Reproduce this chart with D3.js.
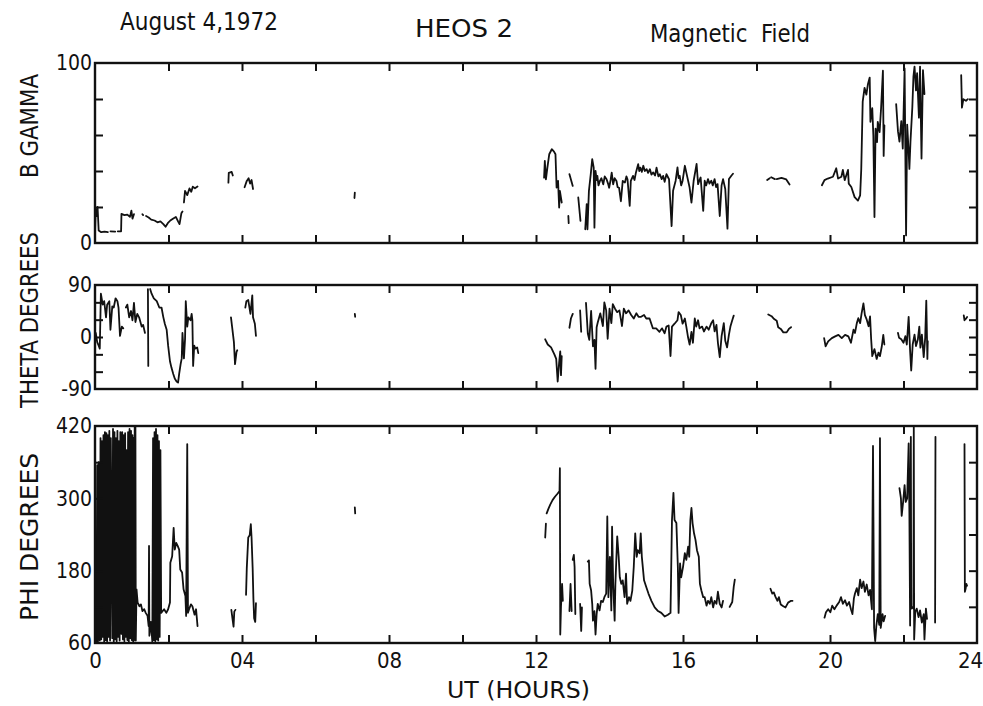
<!DOCTYPE html>
<html><head><meta charset="utf-8">
<script src="https://cdn.jsdelivr.net/npm/d3@7"></script>
<style>
html,body{margin:0;padding:0;background:#fff;}
svg{display:block;}
text{font-family:"Liberation Sans Narrow","DejaVu Sans Condensed","Liberation Sans",sans-serif;fill:#111;font-stretch:condensed;}
</style></head><body>
<svg id="chart" width="983" height="706"></svg>
<script>
// ---------- data (UT hour, value); null marks a data gap ----------
const xTickHours = [0,2,4,6,8,10,12,14,16,18,20,22,24];
const xTickLabels = ["0","","04","","08","","12","","16","","20","","24"];

const bTicks = [0,20,40,60,80,100];
const bTickLabels = ["0","","","","","100"];
const thetaTicks = [-90,-60,-30,0,30,60,90];
const thetaTickLabels = ["-90","","","0","","","90"];
const phiTicks = [60,120,180,240,300,360,420];
const phiTickLabels = ["60","","180","","300","","420"];

const bGamma = [
[0.00,6],[0.02,19],[0.05,15],[0.07,20],[0.10,7],[0.17,6],[0.26,6.3],[0.35,6],null,
[0.42,6.5],[0.55,6.3],null,
[0.62,6.5],[0.71,6.5],[0.72,16.2],[0.80,15.5],[0.88,15.8],[0.95,14.5],[0.99,18],[1.02,13.5],[1.06,16],null,
[1.29,16],[1.31,15.5],null,
[1.39,15],[1.46,14.2],[1.53,13],[1.62,12.5],[1.70,11.5],[1.78,12],[1.86,10.5],[1.92,9],[1.98,11],[2.05,12.5],[2.12,13.5],[2.20,14.5],[2.26,12],[2.30,10.5],[2.35,16.5],[2.38,17.5],null,
[2.42,22.5],[2.45,29],[2.51,26.6],[2.57,30.3],[2.62,28.5],[2.66,31.3],[2.72,30.4],[2.79,31.4],null,
[3.63,33.5],[3.64,39],[3.72,39.5],[3.75,37.5],null,
[4.07,31],[4.13,34.5],[4.18,36],[4.22,33],[4.26,35],[4.30,30],null,
[7.06,25],[7.07,28],null,
[12.22,36.3],[12.24,45.6],[12.27,35.4],[12.31,41.9],[12.36,49.3],[12.43,52.1],[12.49,50.8],[12.53,49.3],[12.56,30.8],[12.60,34.5],[12.63,19.7],[12.65,29],[12.70,22.5],null,
[12.88,15],[12.89,11],null,[12.91,38.2],[13.00,31.7],null,
[13.15,25.3],[13.21,12.3],null,
[13.34,7.6],[13.38,21.6],[13.40,7.6],[13.44,29],[13.49,38.3],[13.53,46.6],[13.57,41.9],[13.59,8.5],[13.62,40.1],[13.65,35],[13.67,37.3],[13.70,32],[13.74,34.5],[13.78,36],[13.83,32.6],[13.87,37],[13.92,35.4],[13.96,33],[13.99,30.7],[14.03,35],[14.06,39.1],[14.10,32.6],[14.14,36],[14.19,34.5],[14.22,31],[14.26,30.7],[14.31,23.2],[14.36,34.5],[14.42,33.6],[14.46,37],[14.49,35.4],[14.55,20.6],[14.58,34.5],[14.64,37.3],[14.68,35],[14.72,39.2],[14.78,43.8],[14.81,40],[14.84,41.9],[14.88,39.5],[14.92,42.9],[14.96,40],[15.01,41],[15.05,39],[15.10,41],[15.14,38],[15.19,39.2],[15.24,37.5],[15.28,41.9],[15.33,37],[15.37,38.2],[15.42,35.5],[15.46,37.3],[15.50,34],[15.55,38.2],[15.62,35.4],[15.69,9.4],[15.73,29],[15.80,34.6],[15.85,42],[15.88,36],[15.91,37.3],[15.95,32],[15.99,34.6],[16.05,42.9],[16.11,37.3],[16.18,30.8],[16.23,22.4],[16.29,34.6],[16.37,43.9],[16.41,32.7],[16.45,35],[16.48,36.4],[16.55,17.8],[16.59,34.6],[16.63,32],[16.68,35.5],[16.72,33],[16.77,34.6],[16.81,32],[16.86,35.5],[16.90,31],[16.94,32.7],[17.00,15],[17.05,32],[17.09,35.5],[17.15,30],[17.21,8],[17.25,35.5],[17.32,37.5],[17.36,38.5],null,
[18.29,35],[18.36,36],null,[18.40,36.5],[18.50,35.5],null,[18.55,35.5],[18.68,36.2],[18.81,35.3],[18.90,32.5],null,
[19.78,32.1],[19.85,34.9],[19.94,35.8],[20.08,36.8],[20.17,41.5],[20.22,35.8],[20.31,36.8],[20.35,40.6],[20.40,34.9],[20.49,40.6],[20.51,33],[20.58,31.1],[20.67,25.5],[20.76,23.6],[20.82,26.4],
[20.85,40.8],[20.89,78.6],[20.94,86.2],[20.99,82.4],[21.03,88],[21.08,91.9],[21.10,67.3],[21.15,74.9],[21.18,59.7],[21.21,14.4],[21.24,63.5],[21.28,56],[21.30,67.3],[21.35,61.6],[21.39,74.9],[21.44,95.7],[21.46,48.4],[21.48,65.4],null,
[21.80,77.2],[21.85,62],[21.89,56.3],[21.94,67.7],[21.98,52.5],[22.03,97],[22.07,4.2],[22.10,65.8],[22.14,50.7],[22.16,41.2],[22.19,56.4],[22.24,75.3],[22.27,92.4],[22.30,98],[22.34,84.8],[22.37,94.3],[22.42,69.6],[22.45,98],[22.49,46.9],[22.53,96],[22.57,82.7],null,
[23.57,93.2],[23.59,75.2],[23.63,79.9],[23.70,79],[23.75,79.9]
];

const thetaDeg = [
[0.00,-9],[0.02,7],[0.06,-9],[0.10,-15],[0.13,-20],[0.16,75],[0.21,56],[0.25,62],[0.30,34],[0.33,56],[0.39,62],[0.42,12.5],[0.47,53],[0.51,51],[0.56,67],[0.61,62],[0.64,51],[0.68,2],[0.73,18],[0.77,15],null,
[0.84,51],[0.88,56],[0.93,34],[0.98,45],[1.02,29],[1.06,59],[1.10,26],[1.15,40],[1.20,34],[1.27,18],[1.31,21],[1.36,7],null,
[1.44,83],[1.45,-50],null,
[1.50,83],[1.54,75],[1.60,67],[1.68,62],[1.75,51],[1.81,51],[1.86,34],[1.90,23],[1.95,12.5],[1.99,-15],[2.04,-42],[2.08,-53],[2.13,-64],[2.17,-72],[2.22,-77],[2.26,-79],[2.29,-64],[2.33,-47],[2.36,-37],[2.38,7],[2.42,-37],[2.45,-4],[2.47,62],[2.51,18],[2.54,34],[2.60,29],[2.63,40],[2.65,29],[2.67,-50],[2.70,-15],[2.73,-20],[2.78,-18],[2.81,-28],null,
[3.70,34],[3.73,18],[3.78,-9],[3.81,-47],[3.85,-26],[3.87,-23],null,
[4.09,51],[4.12,62],[4.17,64],[4.23,40],[4.28,72],[4.30,34],[4.35,23],[4.38,2],null,
[7.07,40],[7.08,35],null,
[12.25,-4],[12.32,-13],[12.41,-18],[12.50,-30],[12.55,-38],[12.59,-77],[12.63,-44],[12.66,-25],[12.68,-66],[12.70,-33],null,
[12.91,16],[12.95,32],[13.00,40],null,
[13.20,46],[13.23,9],null,
[13.36,59],[13.41,6],[13.45,-5],[13.50,45],[13.55,-16],[13.59,-5],[13.62,-55],[13.65,17],[13.68,25],[13.75,41],[13.82,19],[13.86,60],[13.91,46],[13.95,-3],[14.00,49],[14.05,24],[14.09,57],[14.15,49],[14.21,43],[14.27,46],[14.34,19],[14.39,49],[14.45,41],[14.52,46],[14.59,38],[14.66,32],[14.73,41],[14.79,35],[14.86,35],[14.94,38],[15.00,32],[15.09,32],[15.18,15],[15.27,15],[15.36,9],[15.43,15],[15.50,6.5],[15.55,18],[15.61,20],[15.66,-33],[15.70,18],[15.77,23],[15.85,29],[15.88,43],[15.94,38],[15.99,23],[16.05,32],[16.09,18],[16.14,-1.5],[16.18,-13],[16.23,9],[16.27,-10],[16.32,32],[16.36,18],[16.41,29],[16.45,15],[16.52,18],[16.57,9.5],[16.64,18],[16.70,12.6],[16.77,24],[16.82,29],[16.86,9.6],[16.91,21],[16.95,-10],[17.00,-35],[17.05,1.4],[17.11,24],[17.15,-6.6],[17.20,-18],[17.25,4],[17.29,18],[17.34,29],[17.38,37],null,
[18.32,39],[18.41,36],[18.48,31],[18.55,28],[18.59,17],[18.66,14],[18.73,8],[18.82,8],[18.88,14],[18.94,17],null,
[19.84,-2],[19.88,-16],[19.95,-7.6],[20.05,-2],[20.14,1],[20.23,3.6],[20.32,-2],[20.41,3.6],[20.50,1],[20.57,-10],[20.64,12.7],[20.68,7],[20.73,24],[20.77,32.5],[20.82,24],[20.86,41],[20.91,58],[20.95,38],[21.00,30],[21.05,18.6],[21.09,35.5],[21.12,-4],[21.15,-33],[21.21,-21],[21.27,-38],[21.32,-27],[21.36,-33],[21.41,-16],[21.45,3.5],[21.48,-13],null,
[21.85,7],[21.88,-1.5],[21.94,-4],[22.00,-10],[22.05,1.5],[22.09,-13],[22.14,35],[22.18,-24],[22.21,-58],[22.25,-13],[22.30,4],[22.34,-15.7],[22.39,-4.5],[22.43,18],[22.46,-18.5],[22.50,4],[22.55,-35],[22.59,-1.4],[22.62,63],[22.65,-38],[22.66,-7],null,
[23.64,37.5],[23.66,29],[23.70,31.7],[23.73,34.5]
];

const phiDeg = [
[0.00,85],[0.01,78],null,
[0.04,62],[0.06,355],[0.08,62],[0.10,360],[0.12,345],[0.13,64],[0.15,400],[0.17,66],[0.19,395],[0.21,70],[0.23,405],[0.25,62],[0.27,410],[0.29,65],[0.31,408],[0.33,63],[0.35,405],[0.37,70],[0.39,412],[0.41,64],[0.43,400],[0.47,68],[0.49,415],[0.51,62],[0.53,410],[0.55,66],[0.57,400],[0.59,63],[0.61,412],[0.63,70],[0.65,395],[0.67,64],[0.69,410],[0.72,75],[0.74,410],[0.76,66],[0.78,405],[0.80,63],[0.82,408],[0.84,70],[0.86,380],[0.88,65],[0.90,410],[0.92,62],[0.94,415],[0.96,68],[0.98,412],[1.00,65],[1.02,405],[1.04,62],[1.05,400],[1.06,64],[1.07,70],[1.08,420],[1.10,418],[1.11,64],[1.13,149],[1.16,127],[1.21,121],[1.25,124],[1.29,113],[1.34,116],[1.38,110],[1.43,105],[1.46,88],[1.47,221],[1.48,72],[1.52,95],[1.56,62],[1.58,400],[1.60,65],[1.62,410],[1.64,63],[1.66,415],[1.68,66],[1.70,405],[1.72,64],[1.74,395],[1.76,70],[1.78,380],[1.80,110],[1.88,116],[1.94,110],[1.99,116],[2.04,127],[2.05,193],[2.10,204],[2.14,251],[2.17,215],[2.21,226],[2.25,221],[2.29,215],[2.32,182],[2.37,177],[2.41,149],[2.46,138],[2.48,105],[2.51,390],[2.53,110],[2.56,116],[2.61,124],[2.65,121],[2.71,107],[2.75,116],[2.79,88],null,
[3.71,115],[3.74,101],[3.77,87],[3.79,112],[3.82,115],null,
[4.11,140],[4.13,184],[4.17,235],[4.21,239],[4.24,257],[4.26,235],[4.29,184],[4.31,134],[4.33,101],[4.36,95],[4.38,126],null,
[7.07,285],[7.08,275],null,
[12.25,235],[12.27,258],null,[12.29,275],[12.34,283],[12.39,290],[12.45,297],[12.52,303],[12.59,308],[12.64,312],[12.65,350],[12.66,74],[12.68,120],[12.71,158],[12.73,130],null,
[12.91,113],[12.94,158],[12.97,113],null,[13.00,198],[13.03,206],[13.05,186],[13.07,108],null,
[13.20,125],[13.23,80],[13.25,119],null,
[13.41,195],[13.44,197],[13.46,158],[13.50,147],[13.53,125],[13.55,97],[13.59,113],[13.62,74],[13.65,108],[13.68,125],[13.73,114],[13.77,130],[13.82,128],[13.86,136],[13.91,142],[13.94,270],[13.97,136],[14.01,203],[14.05,114],[14.07,253],[14.10,158],[14.14,97],[14.16,158],[14.21,237],[14.25,203],[14.28,169],[14.32,158],[14.36,164],[14.41,136],[14.45,175],[14.48,125],[14.53,136],[14.57,130],[14.62,147],[14.66,186],[14.70,242],[14.74,203],[14.77,214],[14.82,209],[14.85,242],[14.88,203],[14.94,164],[15.00,153],[15.06,142],[15.14,130],[15.23,119],[15.32,113],[15.41,110],[15.50,104],[15.59,107],[15.66,110],[15.70,264],[15.74,309],[15.77,264],[15.82,259],[15.86,186],[15.88,110],[15.92,192],[15.95,169],[16.00,186],[16.05,209],[16.09,198],[16.14,220],[16.17,203],[16.20,264],[16.23,284],[16.26,259],[16.30,242],[16.34,231],[16.38,214],[16.43,203],[16.46,158],[16.50,147],[16.55,136],[16.59,136],[16.64,122],[16.68,130],[16.73,125],[16.77,136],[16.82,119],[16.86,130],[16.91,125],[16.95,145],[17.00,125],[17.05,119],[17.09,130],null,
[17.27,120],[17.34,128],[17.38,153],[17.41,165],null,
[18.38,150],[18.43,142],[18.47,144],[18.52,136],[18.57,130],[18.61,136],[18.66,124],[18.73,121],[18.79,119],[18.86,127],[18.94,130],[18.98,130],null,
[19.85,102],[19.89,111],[19.95,116],[20.01,111],[20.06,122],[20.12,116],[20.18,122],[20.25,128],[20.30,136],[20.35,125],[20.41,131],[20.46,122],[20.52,128],[20.57,116],[20.61,108],[20.65,134],[20.68,142],[20.73,151],[20.77,139],[20.82,165],[20.86,151],[20.91,162],[20.95,145],[21.00,157],[21.05,139],[21.09,148],[21.14,116],[21.17,387],[21.20,85],[21.23,63],[21.26,88],[21.30,108],[21.34,90],[21.36,400],[21.38,85],[21.43,108],[21.46,96],[21.50,105],null,
[21.89,317],[21.93,300],[21.95,271],[21.99,294],[22.03,322],[22.06,294],[22.10,300],[22.14,391],[22.16,277],[22.18,89],[22.20,402],[22.21,117],[22.25,120],[22.27,117],[22.28,418],[22.29,66],[22.32,112],[22.36,117],[22.41,103],[22.45,114],[22.50,94],[22.55,108],[22.57,66],[22.61,117],[22.64,100],null,
[22.86,94],[22.87,402],null,
[23.66,390],[23.67,145],[23.69,150],[23.71,158],[23.73,155]
];

const titles = ["August 4,1972","HEOS 2","Magnetic  Field"];
const panelTitles = ["B GAMMA","THETA DEGREES","PHI DEGREES"];
const xTitle = "UT (HOURS)";

// ---------- drawing ----------
const svg = d3.select("#chart");
svg.append("rect").attr("width",983).attr("height",706).attr("fill","#fff");

const x = d3.scaleLinear().domain([0,24]).range([95,977]);

const panels = [
  {data:bGamma, domain:[0,100], top:63, bottom:243, ticks:bTicks, labels:bTickLabels, title:panelTitles[0], tcy:126, tlen:104},
  {data:thetaDeg, domain:[-90,90], top:285, bottom:389, ticks:thetaTicks, labels:thetaTickLabels, title:panelTitles[1], tcy:320, tlen:176},
  {data:phiDeg, domain:[60,420], top:426, bottom:643, ticks:phiTicks, labels:phiTickLabels, title:panelTitles[2], tcy:537, tlen:168}
];

const ink = "#111";
const fontStack = '"Liberation Sans Narrow","DejaVu Sans Condensed","Liberation Sans",sans-serif';

panels.forEach((p,i)=>{
  const y = d3.scaleLinear().domain(p.domain).range([p.bottom,p.top]);
  const g = svg.append("g");

  // data trace
  const line = d3.line().defined(d=>d!==null).x(d=>x(d[0])).y(d=>y(d[1]));
  g.append("path").datum(p.data).attr("d",line)
    .attr("fill","none").attr("stroke",ink).attr("stroke-width",1.8)
    .attr("stroke-linejoin","round").attr("stroke-linecap","round");

  // frame
  g.append("rect").attr("x",x(0)).attr("y",p.top)
    .attr("width",x(24)-x(0)).attr("height",p.bottom-p.top)
    .attr("fill","none").attr("stroke",ink).attr("stroke-width",2.4);

  const styleAxis = sel => {
    sel.select(".domain").remove();
    sel.selectAll(".tick line").attr("stroke",ink).attr("stroke-width",2);
    sel.selectAll("text").attr("fill",ink).style("font-size","21px").style("font-family",fontStack);
    sel.attr("font-family",null).attr("font-size",null);
  };

  const inner = xTickHours.slice(1,-1);
  g.append("g").attr("transform",`translate(0,${p.top})`)
    .call(d3.axisTop(x).tickValues(inner).tickSize(-8).tickSizeOuter(0).tickFormat(""))
    .call(styleAxis);
  const bottomAxis = d3.axisBottom(x).tickSizeOuter(0);
  if (i===2) {
    bottomAxis.tickValues(xTickHours).tickSize(-8).tickPadding(9)
      .tickFormat(d=>xTickLabels[xTickHours.indexOf(d)]);
  } else {
    bottomAxis.tickValues(inner).tickSize(-8).tickFormat("");
  }
  const bAx = g.append("g").attr("transform",`translate(0,${p.bottom})`).call(bottomAxis).call(styleAxis);
  if (i===2) {
    bAx.selectAll(".tick").filter(d=>d===0||d===24).select("line").remove();
    bAx.selectAll("text").style("font-size","22px");
    bAx.selectAll(".tick").filter(d=>d===24).select("text").attr("dx",-7);
  }

  const lAx = g.append("g").attr("transform",`translate(${x(0)},0)`)
    .call(d3.axisLeft(y).tickValues(p.ticks).tickSize(-8).tickPadding(3).tickSizeOuter(0)
      .tickFormat(d=>p.labels[p.ticks.indexOf(d)]))
    .call(styleAxis);
  lAx.selectAll(".tick").filter((d,k)=>k===0||k===p.ticks.length-1).select("line").remove();
  const rAx = g.append("g").attr("transform",`translate(${x(24)},0)`)
    .call(d3.axisRight(y).tickValues(p.ticks).tickSize(-8).tickSizeOuter(0).tickFormat(""))
    .call(styleAxis);
  rAx.selectAll(".tick").filter((d,k)=>k===0||k===p.ticks.length-1).select("line").remove();

  svg.append("text")
    .attr("transform",`translate(30,${p.tcy}) rotate(-90)`)
    .attr("text-anchor","middle").attr("dominant-baseline","central")
    .attr("textLength",p.tlen).attr("lengthAdjust","spacingAndGlyphs")
    .style("font-size","24px").text(p.title);
});

const titlePos = [[120,30,158],[415,37,98],[650,42,160]];
titles.forEach((t,k)=>{
  svg.append("text").attr("x",titlePos[k][0]).attr("y",titlePos[k][1])
    .attr("textLength",titlePos[k][2]).attr("lengthAdjust","spacingAndGlyphs")
    .style("font-size","24px").style("white-space","pre").text(t);
});

svg.append("text").attr("x",447).attr("y",698)
  .attr("textLength",143).attr("lengthAdjust","spacingAndGlyphs")
  .style("font-size","23px").text(xTitle);
</script>
</body></html>
